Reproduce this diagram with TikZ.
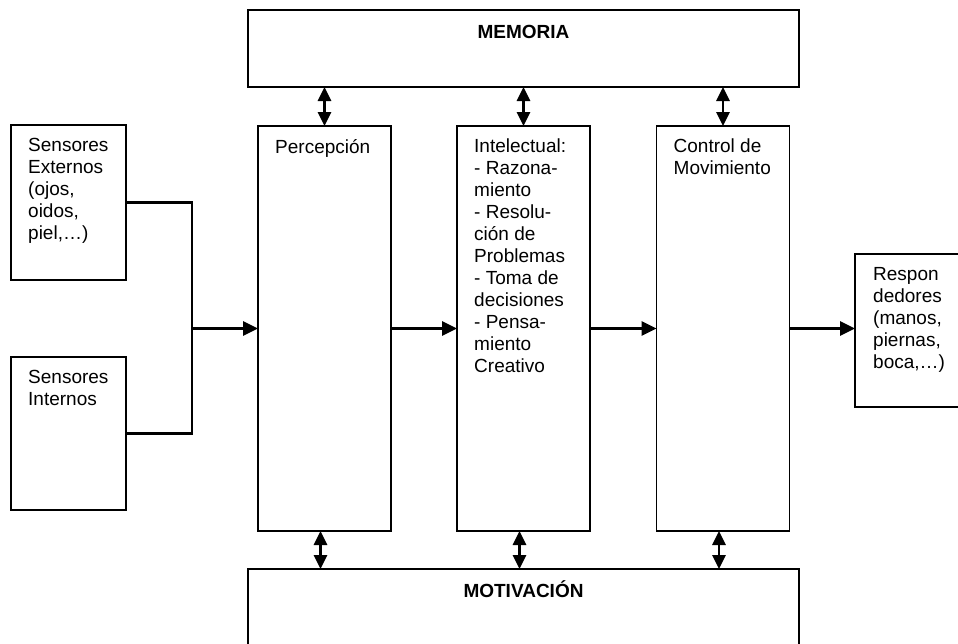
\documentclass[tikz,border=0pt]{standalone}
\usepackage{fontspec}
\setmainfont{Liberation Sans}
\usepackage{tikz}
\usetikzlibrary{shapes,arrows.meta,positioning,calc}
\tikzstyle{blk} = [draw,rectangle,line width=1.3pt,inner sep=0pt,outer sep=0pt]
\tikzstyle{txt} = [align=left,inner sep=0pt,font=\fontsize{19}{22}\selectfont]
\tikzstyle{head} = [inner sep=0pt,font=\fontsize{19}{22}\selectfont\bfseries]
\tikzstyle{wire} = [line width=2.8pt]
\tikzstyle{arrow} = [line width=2.8pt,-{Triangle[length=15pt,width=14pt]}]
\tikzstyle{dblarrow} = [line width=2.8pt,{Triangle[length=14pt,width=13pt]}-{Triangle[length=14pt,width=13pt]}]

\begin{document}
\begin{tikzpicture}[x=1pt,y=-1pt]
                        \fill[white] (0,0) rectangle (958,643);
                        \useasboundingbox (0,0) rectangle (958,643);
                        \clip (0,0) rectangle (958,643);
                        % upper and lower blocks
                        \node[blk,minimum width=551pt,minimum height=77pt] (mem) at (523.5,48.5) {};
                        \node[blk,minimum width=551pt,minimum height=131pt] (mot) at (523.5,634.5) {};
                        \node[head,anchor=base] (memtxt) at ($(mem.north)+(0,28)$) {MEMORIA};
                        \node[head,anchor=base] (mottxt) at ($(mot.north)+(0,28)$) {MOTIVACIÓN};
                        % sensors and responders
                        \node[blk,minimum width=115pt,minimum height=155pt] (ext) at (68.5,202.5) {};
                        \node[blk,minimum width=115pt,minimum height=153pt] (int) at (68.5,433.5) {};
                        \node[blk,minimum width=125pt,minimum height=153pt] (resp) at (917.5,330.5) {};
                        % processing blocks
                        \node[blk,minimum width=133pt,minimum height=405pt] (perc) at (324.5,328.5) {};
                        \node[blk,minimum width=133pt,minimum height=405pt] (intel) at (523.5,328.5) {};
                        \node[blk,minimum width=133pt,minimum height=405pt] (ctrl) at (723,328.5) {};
                        % texts
                        \node[txt,below right=13pt and 17pt of ext.north west] (exttxt) {Sensores\\Externos\\(ojos,\\oidos,\\piel,\dots)};
                        \node[txt,below right=13pt and 17pt of int.north west] (inttxt) {Sensores\\Internos};
                        \node[txt,below right=13pt and 17pt of perc.north west] (perctxt) {Percepción};
                        \node[txt,below right=13pt and 17pt of intel.north west] (inteltxt) {Intelectual:\\- Razona-\\miento\\- Resolu-\\ción de\\Problemas\\- Toma de\\decisiones\\- Pensa-\\miento\\Creativo};
                        \node[txt,below right=13pt and 17pt of ctrl.north west] (ctrltxt) {Control de\\Movimiento};
                        \node[txt,below right=13pt and 18pt of resp.north west] (resptxt) {Respon\\dedores\\(manos,\\piernas,\\boca,\dots)};
                        % connectors
                        \coordinate (jn) at (192,328.5);
                        \draw[wire] (ext.east) -- (ext.east -| jn) -- (int.east -| jn) -- (int.east);
                        \draw[arrow] (jn) -- (perc.west);
                        \draw[arrow] (perc.east) -- (intel.west);
                        \draw[arrow] (intel.east) -- (ctrl.west);
                        \draw[arrow] (ctrl.east) -- (ctrl.east -| resp.west);
                        \foreach \b in {perc,intel,ctrl} {
                            \draw[dblarrow] (\b.north |- mem.south) -- (\b.north);
                            \draw[dblarrow] ([xshift=-4pt]\b.south) -- ([xshift=-4pt]\b.south |- mot.north);
                        }
                    \end{tikzpicture}
\end{document}
